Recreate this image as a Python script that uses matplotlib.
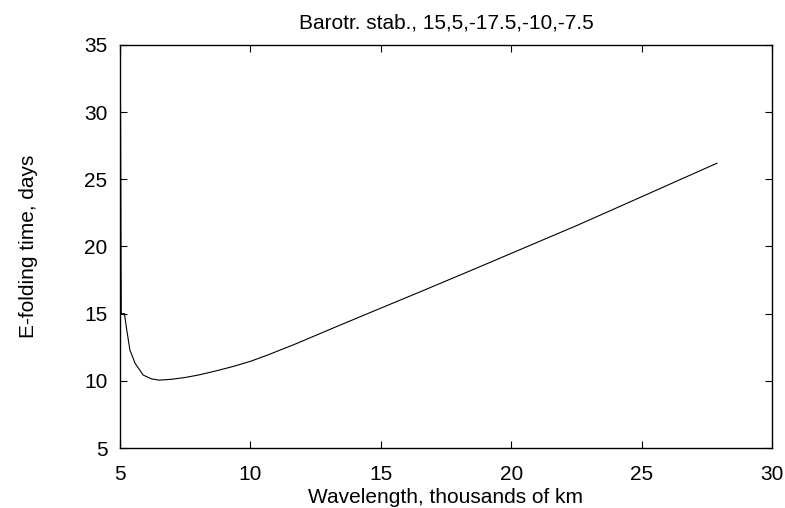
import matplotlib
matplotlib.use("Agg")
import matplotlib.pyplot as plt

plt.rcParams['font.family'] = ['Liberation Sans', 'DejaVu Sans']

wavelength = [5.02, 5.03, 5.04, 5.05, 5.17, 5.26, 5.38, 5.58, 5.89, 6.20, 6.50,
              7.00, 7.50, 8.00, 8.60, 9.30, 10.00, 10.70, 11.8, 13.17, 14.8,
              16.39, 18.5, 20.5, 22.56, 24.94, 26.5, 27.89]
efold = [30.2, 25.0, 19.0, 15.0, 15.0, 13.78, 12.29, 11.30, 10.43, 10.15, 10.05,
         10.12, 10.25, 10.43, 10.70, 11.05, 11.45, 11.95, 12.80, 13.93, 15.25,
         16.53, 18.25, 19.9, 21.6, 23.65, 25.0, 26.2]
title = "Barotr. stab., 15,5,-17.5,-10,-7.5"
xlabel = "Wavelength, thousands of km"
ylabel = "E-folding time, days"
xticks = [5, 10, 15, 20, 25, 30]
yticks = [5, 10, 15, 20, 25, 30, 35]

fig = plt.figure(figsize=(7.85, 5.08), dpi=100)
ax = fig.add_axes([120/785, 1 - 448/508, (772-120)/785, (448-45)/508])
ax.plot(wavelength, efold, color='black', linewidth=0.8)
ax.set_xlim(5, 30)
ax.set_ylim(5, 35)
ax.set_xticks(xticks)
ax.set_yticks(yticks)
ax.tick_params(direction='in', top=True, right=True, length=5, width=0.8,
               labelsize=15)
ax.tick_params(axis='x', pad=12)
ax.tick_params(axis='y', pad=9)
for s in ax.spines.values():
    s.set_linewidth(1.0)
ax.set_title(title, fontsize=15, pad=12)
ax.set_xlabel(xlabel, fontsize=15, labelpad=3)
ax.set_ylabel(ylabel, fontsize=15, labelpad=33)
fig.savefig("out.png", dpi=100)
